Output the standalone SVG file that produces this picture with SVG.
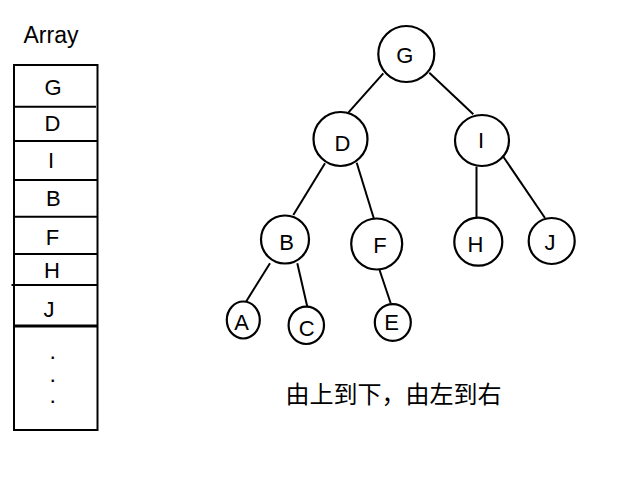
<svg xmlns="http://www.w3.org/2000/svg" width="640" height="480" viewBox="0 0 640 480">
<style>
.s{fill:none;stroke:#000;stroke-width:2}
.n{fill:#fff;stroke:#000;stroke-width:2.2}
.t{font-family:"Liberation Sans",Arial,Helvetica,sans-serif;font-size:22px;fill:#000;text-anchor:middle}
.d{font-family:"Liberation Sans",Arial,Helvetica,sans-serif;font-size:16px;font-weight:bold;fill:#000;text-anchor:middle}
.c{font-family:"Liberation Sans","Noto Sans CJK SC",sans-serif;font-size:24px;fill:#000}
</style>
<rect width="640" height="480" fill="#fff"/>
<g id="array-label"><text class="t" x="51" y="43" style="font-size:23px">Array</text></g>
<g id="array">
<rect class="s" x="14" y="65" width="83.5" height="365"/>
<line class="s" x1="14" y1="106.7" x2="96" y2="106.7"/>
<line class="s" x1="14" y1="141" x2="97.5" y2="141"/>
<line class="s" x1="14" y1="180" x2="97.5" y2="180"/>
<line class="s" x1="14" y1="216.7" x2="97.5" y2="216.7"/>
<line class="s" x1="14" y1="254" x2="97.5" y2="254"/>
<line class="s" x1="11.5" y1="285" x2="97.5" y2="285"/>
<line class="s" x1="14" y1="326" x2="97.5" y2="326" style="stroke-width:3"/>
<text class="t" x="53" y="95">G</text>
<text class="t" x="52.5" y="131">D</text>
<text class="t" x="51" y="167.5">I</text>
<text class="t" x="53.3" y="206">B</text>
<text class="t" x="52.5" y="245">F</text>
<text class="t" x="52" y="278">H</text>
<text class="t" x="49" y="316.5">J</text>
<text class="d" x="52.7" y="358.8">.</text>
<text class="d" x="52.7" y="382.2">.</text>
<text class="d" x="52.7" y="403.2">.</text>
</g>
<g id="connectors">
<line class="s" x1="383.3" y1="73.3" x2="348.3" y2="112.7"/>
<line class="s" x1="429.3" y1="72.7" x2="473.3" y2="114.3"/>
<line class="s" x1="325" y1="163.3" x2="293.3" y2="215"/>
<line class="s" x1="356.7" y1="162.7" x2="374" y2="219"/>
<line class="s" x1="476.5" y1="166.7" x2="476.5" y2="217"/>
<line class="s" x1="503.3" y1="156.7" x2="545" y2="218"/>
<line class="s" x1="270" y1="263.3" x2="246" y2="301.7"/>
<line class="s" x1="297.3" y1="263.3" x2="307.3" y2="306.7"/>
<line class="s" x1="379.3" y1="269.3" x2="390.7" y2="303.3"/>
</g>
<g id="node-G"><circle class="n" cx="406.3" cy="54" r="28"/><text class="t" x="404.7" y="62.5">G</text></g>
<g id="node-D"><circle class="n" cx="340.5" cy="139" r="27"/><text class="t" x="342.5" y="150.5">D</text></g>
<g id="node-I"><ellipse class="n" cx="482" cy="140.5" rx="27" ry="25.5"/><text class="t" x="481" y="148">I</text></g>
<g id="node-B"><circle class="n" cx="285" cy="239.5" r="24"/><text class="t" x="286.7" y="250">B</text></g>
<g id="node-F"><circle class="n" cx="376.7" cy="244" r="25.5"/><text class="t" x="380" y="253">F</text></g>
<g id="node-H"><circle class="n" cx="478.3" cy="241.7" r="24"/><text class="t" x="475.5" y="251.5">H</text></g>
<g id="node-J"><circle class="n" cx="551.7" cy="241" r="23"/><text class="t" x="550" y="249.5">J</text></g>
<g id="node-A"><ellipse class="n" cx="243.3" cy="320" rx="16.5" ry="18.5"/><text class="t" x="241.7" y="330">A</text></g>
<g id="node-C"><ellipse class="n" cx="306.3" cy="325.3" rx="17.7" ry="18.7"/><text class="t" x="306.7" y="336">C</text></g>
<g id="node-E"><ellipse class="n" cx="392.8" cy="322.5" rx="18" ry="18.3"/><text class="t" x="391.7" y="330">E</text></g>
<g id="caption"><text class="c" x="285.5" y="403">由上到下，由左到右</text></g>
</svg>
